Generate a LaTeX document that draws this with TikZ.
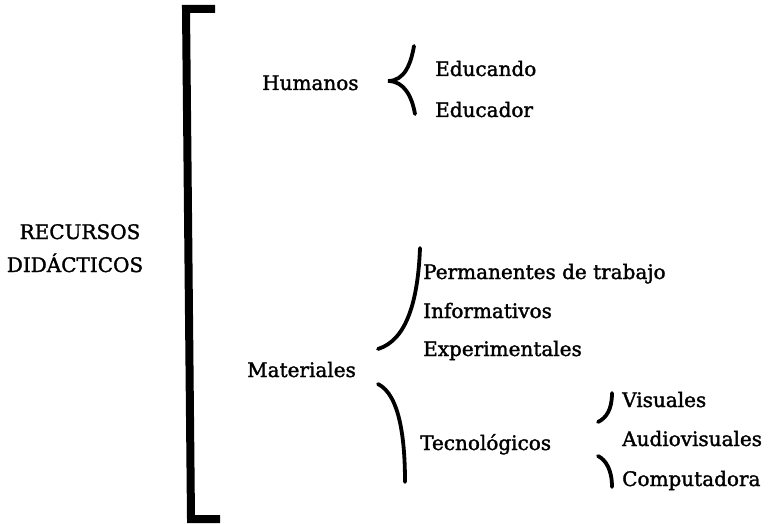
\documentclass[tikz,border=0pt]{standalone}
\usepackage{fontspec}
\setmainfont{DejaVu Serif}
\newfontfamily\lblfont{DejaVu Serif}[FakeBold=1.6]
\tikzset{
  lbl/.style={inner sep=0pt, anchor=base west, font=\lblfont\fontsize{20}{25}\selectfont},
  brc/.style={line width=3.8pt, line cap=round},
}
\begin{document}
\begin{tikzpicture}[x=1pt,y=-1pt]
\useasboundingbox (0,0) rectangle (770,524);
% big bracket
\draw[line width=8pt, miter limit=10] (215,9) -- (186,9) -- (191,519) -- (220,519);
% title
\node[lbl, anchor=base] (rec1) at (80,239) {RECURSOS};
\node[lbl, anchor=base] (rec2) at (75,272) {DIDÁCTICOS};
% Humanos
\node[lbl] (hum) at (262,90) {Humanos};
\node[lbl] (edn) at (435,76) {Educando};
\node[lbl] (edr) at (435,117) {Educador};
\draw[brc] (414,46) to[out=-100,in=0] (388,81) to[out=0,in=100] (415,114);
% Materiales
\node[lbl] (mat) at (247,377) {Materiales};
\node[lbl] (per) at (423,279) {Permanentes de trabajo};
\node[lbl] (inf) at (423,318) {Informativos};
\node[lbl] (exp) at (423,356) {Experimentales};
\draw[brc] (420,248) .. controls (418,300) and (407,340) .. (378,349);
\draw[brc] (378,384) .. controls (400,395) and (405,440) .. (405,482);
% Tecnologicos
\node[lbl] (tec) at (420,450) {Tecnológicos};
\node[lbl] (vis) at (622,407) {Visuales};
\node[lbl] (aud) at (622,446) {Audiovisuales};
\node[lbl] (com) at (622,486) {Computadora};
\draw[brc] (612,393) .. controls (612,410) and (606,418) .. (598,422);
\draw[brc] (598,456) .. controls (606,460) and (612,470) .. (612,487);
\end{tikzpicture}
\end{document}
